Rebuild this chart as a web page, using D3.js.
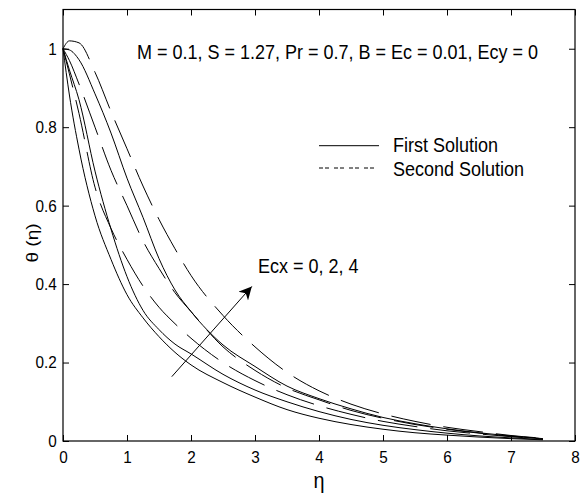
<!DOCTYPE html>
<html><head><meta charset="utf-8">
<script src="https://cdn.jsdelivr.net/npm/d3@7"></script>
<style>
body{margin:0;background:#fff;}
text{font-family:"Liberation Sans",Arial,sans-serif;fill:#000;}
</style></head><body>
<svg id="c" width="582" height="497"></svg>
<script>
// ---- data ----
const eta = [0, 0.1, 0.25, 0.5, 0.75, 1, 1.25, 1.5, 1.75, 2, 2.5, 3, 3.5, 4, 4.5, 5, 5.5, 6, 6.5, 7, 7.5];
const firstEcx0  = [1, 0.882, 0.744, 0.574, 0.463, 0.373, 0.314, 0.266, 0.226, 0.194, 0.149, 0.112, 0.08, 0.058, 0.042, 0.03, 0.021, 0.015, 0.01, 0.006, 0.003];
const secondEcx0 = [1, 0.936, 0.835, 0.647, 0.542, 0.463, 0.395, 0.341, 0.299, 0.262, 0.2, 0.154, 0.118, 0.09, 0.068, 0.05, 0.037, 0.026, 0.018, 0.011, 0.005];
const firstEcx2  = [1, 0.946, 0.87, 0.688, 0.54, 0.419, 0.333, 0.284, 0.247, 0.222, 0.17, 0.13, 0.1, 0.075, 0.055, 0.04, 0.029, 0.02, 0.013, 0.008, 0.004];
const secondEcx2 = [1, 0.97, 0.91, 0.8, 0.69, 0.6, 0.51, 0.44, 0.378, 0.33, 0.24, 0.18, 0.135, 0.105, 0.078, 0.058, 0.042, 0.03, 0.02, 0.012, 0.006];
const firstEcx4  = [1, 0.997, 0.972, 0.885, 0.785, 0.67, 0.57, 0.465, 0.385, 0.33, 0.245, 0.19, 0.14, 0.108, 0.082, 0.06, 0.044, 0.031, 0.021, 0.013, 0.006];
const secondEcx4 = [1, 1.02, 1.015, 0.94, 0.84, 0.745, 0.65, 0.565, 0.49, 0.422, 0.32, 0.24, 0.175, 0.128, 0.094, 0.069, 0.05, 0.035, 0.024, 0.014, 0.007];
const xTicks = [0, 1, 2, 3, 4, 5, 6, 7, 8];
const yTicks = [0, 0.2, 0.4, 0.6, 0.8, 1];
const titleText = "M = 0.1, S = 1.27, Pr = 0.7, B = Ec = 0.01, Ecy = 0";
const legendLabels = ["First Solution", "Second Solution"];
const annotationText = "Ecx = 0, 2, 4";
const arrowFrom = [1.70, 0.164];
const arrowTo = [2.95, 0.394];

// ---- layout ----
const svg = d3.select("#c");
const L = 63, R = 575, T = 9.5, B = 441;
const x = d3.scaleLinear().domain([0, 8]).range([L, R]);
const y = d3.scaleLinear().domain([0, 1.1]).range([B, T]);

const series = [
  {v: firstEcx0, dash: null}, {v: secondEcx0, dash: "40,13"},
  {v: firstEcx2, dash: null}, {v: secondEcx2, dash: "40,13"},
  {v: firstEcx4, dash: null}, {v: secondEcx4, dash: "40,13"}
];
const line = d3.line().x((d, i) => x(eta[i])).y(d => y(d)).curve(d3.curveMonotoneX);
svg.append("g").selectAll("path").data(series).join("path")
  .attr("d", d => line(d.v)).attr("fill", "none").attr("stroke", "#000")
  .attr("stroke-width", 1).attr("stroke-dasharray", d => d.dash);

// axes
const fs = 17;
const gx = svg.append("g").attr("transform", `translate(0,${B})`)
  .call(d3.axisBottom(x).tickValues(xTicks).tickFormat(d3.format("d")).tickSizeInner(-6).tickSizeOuter(0).tickPadding(10));
const gy = svg.append("g").attr("transform", `translate(${L},0)`)
  .call(d3.axisLeft(y).tickValues(yTicks).tickFormat(d => d === 0 || d === 1 ? d : d.toFixed(1)).tickSizeInner(-6).tickSizeOuter(0).tickPadding(7));
svg.append("g").attr("transform", `translate(0,${T})`)
  .call(d3.axisTop(x).tickValues(xTicks).tickFormat("").tickSizeInner(-6).tickSizeOuter(0));
svg.append("g").attr("transform", `translate(${R},0)`)
  .call(d3.axisRight(y).tickValues(yTicks).tickFormat("").tickSizeInner(-6).tickSizeOuter(0));
svg.selectAll(".domain").remove();
svg.selectAll(".tick line").attr("stroke", "#000");
[gx, gy].forEach(g => g.selectAll("text").attr("font-size", fs).attr("font-family", "Liberation Sans").attr("fill", "#000").attr("transform", "scale(0.9,1)"));
svg.append("rect").attr("x", L).attr("y", T).attr("width", R - L).attr("height", B - T)
  .attr("fill", "none").attr("stroke", "#000").attr("stroke-width", 1.2);

// axis labels
svg.append("text").attr("transform", "translate(319,488) scale(0.9,1)").attr("text-anchor", "middle").attr("font-size", 22).text("η");
svg.append("text").attr("transform", "translate(38,243) rotate(-90) scale(1,0.9)").attr("text-anchor", "middle").attr("font-size", 19).text("θ (η)");

// title
svg.append("text").attr("transform", "translate(137,59.3) scale(0.9,1)").attr("font-size", 20).text(titleText);

// legend
svg.append("line").attr("x1", 319).attr("x2", 379).attr("y1", 145.7).attr("y2", 145.7).attr("stroke", "#000");
svg.append("line").attr("x1", 319).attr("x2", 379).attr("y1", 168).attr("y2", 168).attr("stroke", "#000").attr("stroke-dasharray", "4,2,4,5");
svg.append("text").attr("transform", "translate(393,151.7) scale(0.9,1)").attr("font-size", 20).text(legendLabels[0]);
svg.append("text").attr("transform", "translate(393,176) scale(0.9,1)").attr("font-size", 20).text(legendLabels[1]);

// annotation
svg.append("text").attr("transform", "translate(258,273.3) scale(0.9,1)").attr("font-size", 20).text(annotationText);
svg.append("defs").append("marker").attr("id", "ah").attr("viewBox", "0 0 10 10").attr("refX", 10).attr("refY", 5)
  .attr("markerWidth", 18).attr("markerHeight", 13).attr("markerUnits", "userSpaceOnUse").attr("orient", "auto")
  .append("path").attr("d", "M0,0 L10,5 L0,10 L3,5 Z").attr("fill", "#000");
svg.append("line").attr("x1", x(arrowFrom[0])).attr("y1", y(arrowFrom[1])).attr("x2", x(arrowTo[0])).attr("y2", y(arrowTo[1]))
  .attr("stroke", "#000").attr("stroke-width", 1).attr("marker-end", "url(#ah)");
</script></body></html>
